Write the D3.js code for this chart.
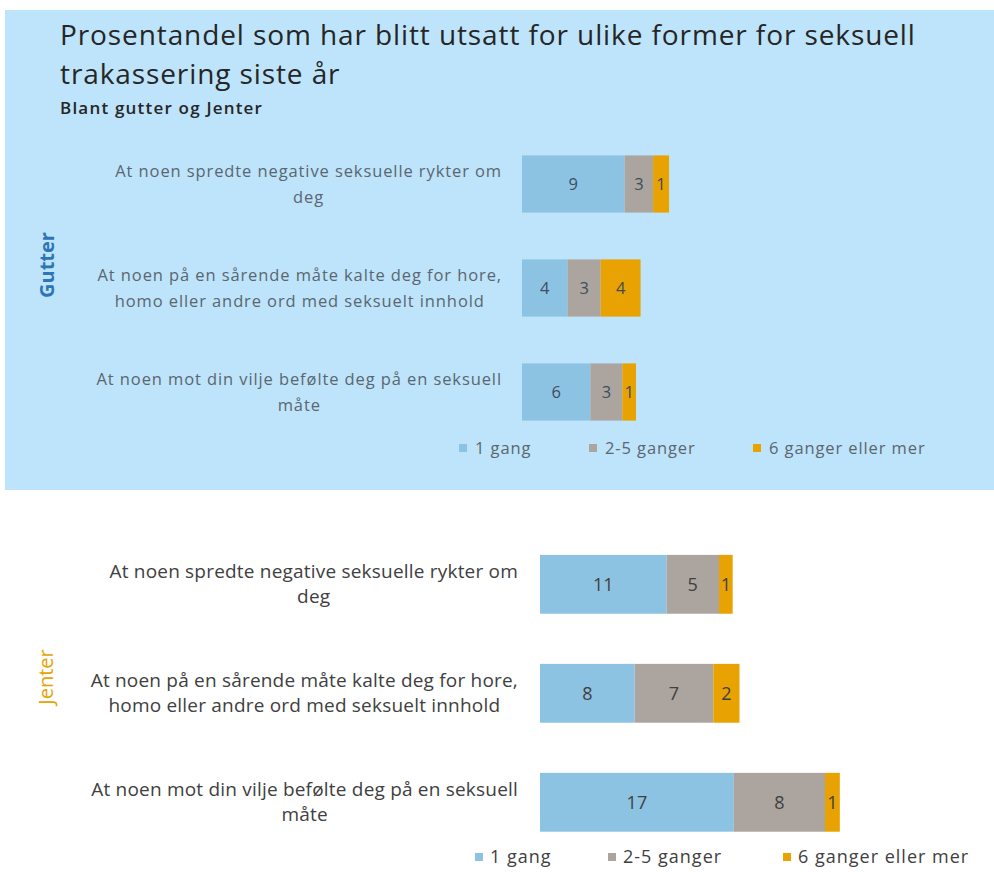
<!DOCTYPE html>
<html>
<head>
<meta charset="utf-8">
<script src="https://cdn.jsdelivr.net/npm/d3@7"></script>
<style>
  body { margin: 0; background: #fff; }
  text { font-family: "Open Sans", sans-serif; }
</style>
</head>
<body>
<svg width="994" height="872"></svg>
<script>
// data
var categories = [
  ["At noen spredte negative seksuelle rykter om", "deg"],
  ["At noen på en sårende måte kalte deg for hore,", "homo eller andre ord med seksuelt innhold"],
  ["At noen mot din vilje befølte deg på en seksuell", "måte"]
];
var series = ["1 gang", "2-5 ganger", "6 ganger eller mer"];
var colors = ["#8dc3e2", "#aca59f", "#e8a202"];

// gutter, per series (labels are rounded)
var gutter1 = [9.0, 4.0, 6.0];
var gutter2_5 = [2.5, 2.9, 2.8];
var gutter6 = [1.4, 3.5, 1.2];

// jenter
var jenter1 = [11.1, 8.3, 17.0];
var jenter2_5 = [4.6, 6.9, 8.0];
var jenter6 = [1.2, 2.3, 1.3];

var svg = d3.select("svg");

// blue panel behind the gutter part
svg.append("rect")
  .attr("x", 5).attr("y", 10)
  .attr("width", 989).attr("height", 480)
  .attr("fill", "#bde4fa");

svg.append("text")
  .attr("x", 60).attr("y", 45)
  .attr("font-size", 28)
  .attr("letter-spacing", 0.9)
  .attr("fill", "#262626")
  .text("Prosentandel som har blitt utsatt for ulike former for seksuell");
svg.append("text")
  .attr("x", 60).attr("y", 84)
  .attr("font-size", 28)
  .attr("letter-spacing", 0.9)
  .attr("fill", "#262626")
  .text("trakassering siste år");
svg.append("text")
  .attr("x", 60).attr("y", 114)
  .attr("font-size", 17)
  .attr("font-weight", 600)
  .attr("letter-spacing", 1.2)
  .attr("fill", "#262626")
  .text("Blant gutter og Jenter");

var x = d3.scaleLinear().domain([0, 30]).range([0, 342]);
var fmt = function(v){ return d3.format(".0f")(Math.round(v)); };

function drawPanel(opt){
  var g = svg.append("g");
  var rows = categories.map(function(c, i){
    return {lines: c, vals: [opt.s1[i], opt.s2[i], opt.s3[i]]};
  });
  var y = d3.scaleBand()
    .domain(d3.range(rows.length))
    .range(opt.yRange)
    .paddingInner(opt.pad)
    .paddingOuter(opt.padOuter);

  // category labels, centered lines, block right aligned
  rows.forEach(function(r, i){
    var cy = y(i) + y.bandwidth() / 2;
    var t = g.append("text")
      .attr("font-size", opt.labelSize)
      .attr("letter-spacing", opt.labelSpacing)
      .attr("fill", opt.labelColor)
      .attr("text-anchor", "middle");
    var spans = t.selectAll("tspan").data(r.lines).enter().append("tspan")
      .attr("y", function(d, k){ return cy + opt.baselines[k]; })
      .text(function(d){ return d; });
    var w = d3.max(spans.nodes(), function(n){ return n.getComputedTextLength(); });
    spans.attr("x", opt.labelRight - w / 2);
  });

  // stacked segments
  rows.forEach(function(r, i){
    var acc = 0;
    r.vals.forEach(function(v, s){
      var x0 = opt.x0 + x(acc);
      g.append("rect")
        .attr("x", x0).attr("y", y(i))
        .attr("width", x(v)).attr("height", y.bandwidth())
        .attr("fill", colors[s]);
      g.append("text")
        .attr("x", x0 + x(v) / 2)
        .attr("y", y(i) + y.bandwidth() / 2)
        .attr("dy", "0.35em")
        .attr("text-anchor", "middle")
        .attr("font-size", opt.valueSize)
        .attr("fill", opt.valueColor)
        .text(fmt(v));
      acc += v;
    });
  });

  // group title, rotated
  g.append("text")
    .attr("transform", "translate(" + opt.groupX + "," + opt.groupY + ") rotate(-90)")
    .attr("text-anchor", "middle")
    .attr("dy", "0.35em")
    .attr("font-size", 20)
    .attr("font-weight", opt.groupWeight)
    .attr("fill", opt.groupColor)
    .text(opt.group);

  // legend
  var lg = g.selectAll(".leg").data(series).enter().append("g")
    .attr("transform", function(d, i){ return "translate(" + opt.legendX[i] + "," + opt.legendY + ")"; });
  lg.append("rect")
    .attr("x", 0).attr("y", -4)
    .attr("width", 8).attr("height", 8)
    .attr("fill", function(d, i){ return colors[i]; });
  lg.append("text")
    .attr("x", opt.legendGap).attr("dy", "0.35em")
    .attr("font-size", opt.legendSize)
    .attr("letter-spacing", opt.legendSpacing)
    .attr("fill", opt.legendColor)
    .text(function(d){ return d; });
}

drawPanel({
  s1: gutter1, s2: gutter2_5, s3: gutter6,
  yRange: [132, 444], pad: 0.45, padOuter: 0.225,
  x0: 522, labelRight: 502, labelSize: 16.5, labelSpacing: 0.9, labelColor: "#5b6670",
  baselines: [-7, 19],
  valueSize: 16.5, valueColor: "#3e4d5c",
  group: "Gutter", groupX: 47, groupY: 265, groupColor: "#2e75b6", groupWeight: 700,
  legendX: [459, 589, 753], legendY: 448, legendGap: 16, legendSize: 16.5, legendSpacing: 0.9, legendColor: "#5b6670"
});

drawPanel({
  s1: jenter1, s2: jenter2_5, s3: jenter6,
  yRange: [532, 854.6], pad: 0.46, padOuter: 0.21,
  x0: 540, labelRight: 518, labelSize: 19, labelSpacing: 0.2, labelColor: "#404040",
  baselines: [-6, 19],
  valueSize: 18, valueColor: "#404040",
  group: "Jenter", groupX: 46, groupY: 677, groupColor: "#e8a202", groupWeight: 400,
  legendX: [475, 608, 783], legendY: 857, legendGap: 15, legendSize: 18, legendSpacing: 1.0, legendColor: "#404040"
});
</script>
</body>
</html>
